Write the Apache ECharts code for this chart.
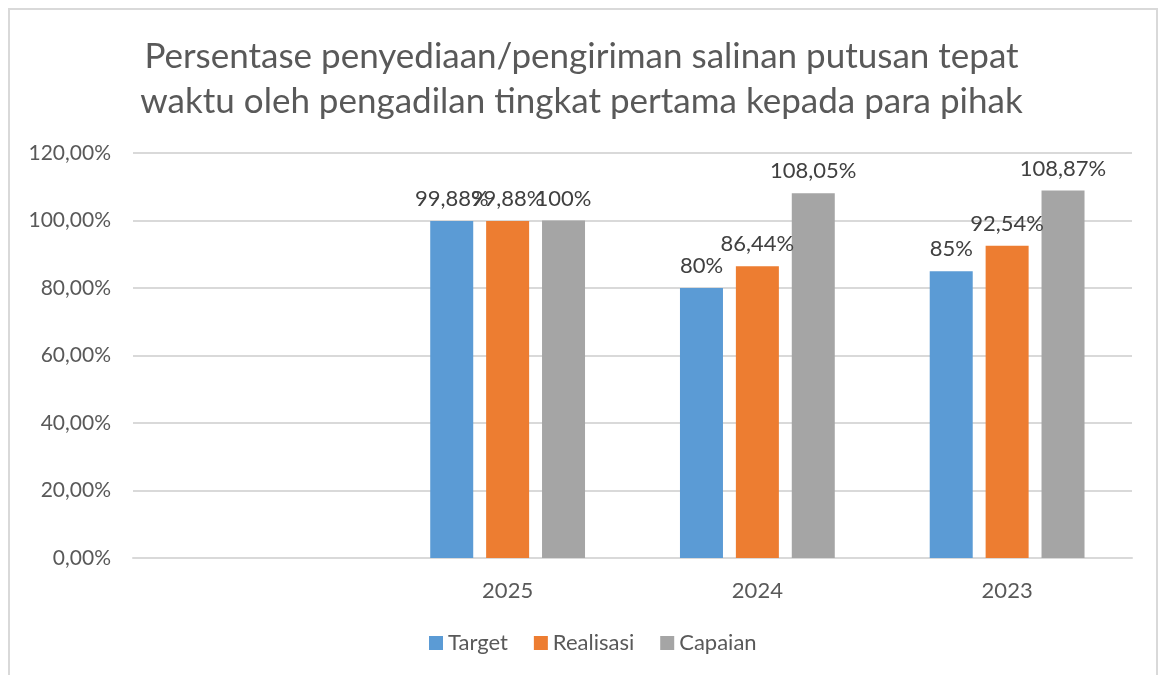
<!DOCTYPE html>
<html>
<head>
<meta charset="utf-8">
<script src="https://cdn.jsdelivr.net/npm/echarts@6/dist/echarts.min.js"></script>
<style>
  html, body { margin: 0; padding: 0; background: #fff; }
  #frame { position: absolute; left: 8px; top: 8px; width: 1150px; height: 680px; border: 2px solid #d9d9d9; box-sizing: border-box; }
  #chart { position: absolute; left: 0; top: 0; width: 1163px; height: 675px; }
</style>
</head>
<body>
<div id="frame"></div>
<div id="chart"></div>
<script>
// data
const categories = ["", "2025", "2024", "2023"];
const target = [null, 99.88, 80, 85];
const realisasi = [null, 99.88, 86.44, 92.54];
const capaian = [null, 100, 108.05, 108.87];

const FONT = "Lato";

function pct(v) {
  return String(v).replace(".", ",") + "%";
}

const chart = echarts.init(document.getElementById("chart"));

function bar(name, data, color) {
  return {
    name: name,
    type: "bar",
    data: data,
    barWidth: 43,
    barGap: "30%",
    itemStyle: { color: color },
    label: {
      show: true,
      position: "top",
      distance: 11,
      color: "#404040",
      fontFamily: FONT,
      fontSize: 22,
      formatter: (p) => pct(p.value),
    },
  };
}

const option = {
  animation: false,
  title: {
    text: "Persentase penyediaan/pengiriman salinan putusan tepat\nwaktu oleh pengadilan tingkat pertama kepada para pihak",
    left: "center",
    top: 29,
    textStyle: {
      color: "#595959",
      fontFamily: FONT,
      fontWeight: "normal",
      fontSize: 35,
      lineHeight: 45,
    },
  },
  legend: {
    bottom: 16,
    left: 424,
    itemWidth: 14,
    itemHeight: 14,
    itemGap: 26,
    icon: "rect",
    textStyle: { color: "#595959", fontFamily: FONT, fontSize: 22 },
    data: ["Target", "Realisasi", "Capaian"],
  },
  grid: {
    left: 133,
    right: 31,
    top: 153,
    bottom: 117,
  },
  xAxis: {
    type: "category",
    data: categories,
    axisLine: { lineStyle: { color: "#d9d9d9", width: 2 } },
    axisTick: { show: false },
    axisLabel: {
      color: "#595959",
      fontFamily: FONT,
      fontSize: 22,
      margin: 22,
    },
  },
  yAxis: {
    type: "value",
    min: 0,
    max: 120,
    interval: 20,
    axisLine: { show: false },
    axisTick: { show: false },
    splitLine: { lineStyle: { color: "#d9d9d9", width: 2 } },
    axisLabel: {
      color: "#595959",
      fontFamily: FONT,
      fontSize: 21,
      margin: 22,
      formatter: (v) => v.toFixed(2).replace(".", ",") + "%",
    },
  },
  series: [
    bar("Target", target, "#5b9bd5"),
    bar("Realisasi", realisasi, "#ed7d31"),
    bar("Capaian", capaian, "#a5a5a5"),
  ],
};

chart.setOption(option);
</script>
</body>
</html>
